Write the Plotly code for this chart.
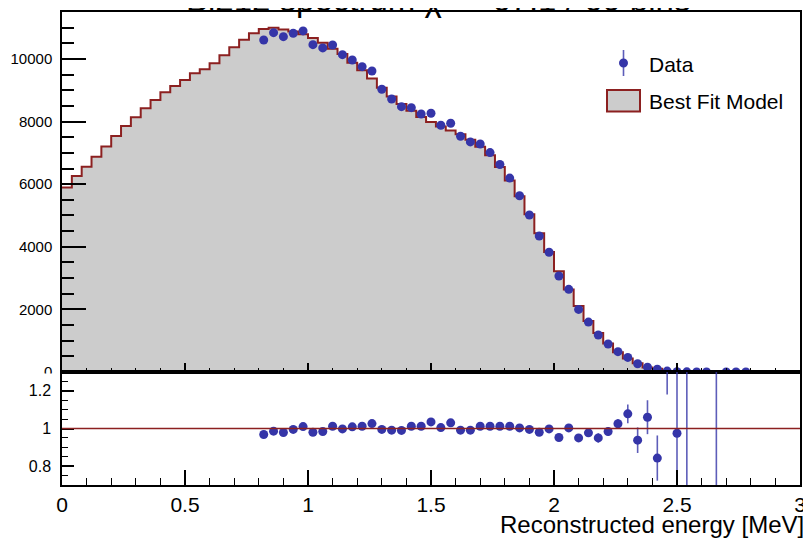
import plotly.graph_objects as go

# ---- data ----
bin_width = 0.04
bin_edges = [round(i * bin_width, 4) for i in range(76)]  # 0 .. 3.0 MeV, 75 bins

model_counts = [
    5890, 6262, 6560, 6880, 7200, 7540, 7860, 8138, 8425, 8690,
    8936, 9138, 9330, 9543, 9675, 9866, 10120, 10375, 10610, 10820,
    10958, 10995, 10943, 10874, 10787, 10670, 10520, 10323, 10158, 9879,
    9638, 9373, 9077, 8801, 8562, 8344, 8145, 7986, 7843, 7714,
    7598, 7416, 7199, 6927, 6551, 6121, 5613, 5041, 4434, 3833,
    3220, 2632, 2105, 1633, 1244, 910, 633, 431, 283, 146,
    104, 20, 8.2, 3.5, 1.5, 0.6, 0.25, 0.1, 0.04, 0.02,
    0, 0, 0, 0, 0,
]

data_energy = [
    0.82, 0.86, 0.90, 0.94, 0.98, 1.02, 1.06, 1.10, 1.14, 1.18,
    1.22, 1.26, 1.30, 1.34, 1.38, 1.42, 1.46, 1.50, 1.54, 1.58,
    1.62, 1.66, 1.70, 1.74, 1.78, 1.82, 1.86, 1.90, 1.94, 1.98,
    2.02, 2.06, 2.10, 2.14, 2.18, 2.22, 2.26, 2.30, 2.34, 2.38,
    2.42, 2.46, 2.50, 2.54, 2.58, 2.62, 2.66, 2.70, 2.74, 2.78,
]
data_counts = [
    10607, 10841, 10713, 10820, 10895, 10457, 10352, 10447, 10138, 9968,
    9754, 9617, 9032, 8722, 8476, 8444, 8243, 8265, 7882, 7945,
    7530, 7349, 7285, 7010, 6630, 6195, 5630, 5016, 4345, 3825,
    3065, 2640, 2000, 1595, 1182, 895, 649, 465, 265, 155,
    88, 30, 8, 4, 2, 2, None, 1, 1, 1,
]
ratio_values = [
    0.968, 0.986, 0.979, 0.995, 1.010, 0.980, 0.984, 1.012, 0.998, 1.009,
    1.012, 1.026, 0.995, 0.991, 0.990, 1.012, 1.012, 1.035, 1.005, 1.030,
    0.991, 0.991, 1.012, 1.012, 1.012, 1.012, 1.003, 0.995, 0.980, 0.998,
    0.952, 1.003, 0.950, 0.977, 0.950, 0.984, 1.025, 1.078, 0.938, 1.060,
    0.843, 1.50, 0.975, 1.40, None, None, 2.0, None, None, None,
]
ratio_errors = [
    0.010, 0.010, 0.010, 0.010, 0.010, 0.010, 0.010, 0.010, 0.010, 0.010,
    0.010, 0.010, 0.010, 0.010, 0.010, 0.010, 0.010, 0.010, 0.010, 0.010,
    0.010, 0.010, 0.010, 0.010, 0.010, 0.010, 0.012, 0.012, 0.014, 0.015,
    0.016, 0.018, 0.020, 0.022, 0.025, 0.022, 0.025, 0.050, 0.068, 0.090,
    0.120, 0.320, 0.400, 0.900, 0, 0, 1.5, 0, 0, 0,
]

title_text = "Bi212 spectrum χ<sup>2</sup> = 67.1 / 60 bins"
x_title = "Reconstructed energy [MeV]"
y_ticks_main = [0, 2000, 4000, 6000, 8000, 10000]
y_ticks_ratio = [0.8, 1.0, 1.2]
y_ticks_ratio_text = ["0.8", "1", "1.2"]

# ---- styling ----
FONT = "Liberation Sans, Arial, Helvetica, sans-serif"
BLUE = "#3535a8"
RED = "#8c2020"
GRAY = "#cccccc"

# the page has an 8px body margin, so the figure is drawn 8px smaller
OFF = 8
W, H = 811 - OFF, 538 - OFF
L, T = 62 - OFF, 12 - OFF
R, B = 11, 53
PLOT_W = W - L - R
PLOT_H = H - T - B
ratio_top_page = 372
ratio_dom = (H - B - (ratio_top_page - OFF)) / PLOT_H


def px_x(page_x):
    return (page_x - OFF - L) / PLOT_W


def px_y(page_y):
    return (H - B - (page_y - OFF)) / PLOT_H


fig = go.Figure()

# model histogram (step)
fig.add_trace(go.Scatter(
    x=bin_edges, y=model_counts + [model_counts[-1]],
    mode="lines", line=dict(shape="hv", color=RED, width=2),
    fill="tozeroy", fillcolor=GRAY, xaxis="x", yaxis="y",
    hoverinfo="skip", showlegend=False,
))
# data points
fig.add_trace(go.Scatter(
    x=data_energy, y=data_counts, mode="markers",
    marker=dict(color=BLUE, size=9), xaxis="x", yaxis="y",
    showlegend=False,
))
# ratio points
fig.add_trace(go.Scatter(
    x=data_energy, y=ratio_values, mode="markers",
    marker=dict(color=BLUE, size=9),
    error_y=dict(type="data", array=ratio_errors, color="rgba(53,53,168,0.8)",
                 thickness=1.6, width=0),
    xaxis="x2", yaxis="y2", showlegend=False,
))

axis_common = dict(showgrid=False, zeroline=False, showline=True, linecolor="black",
                   linewidth=1.5, mirror=True, ticks="inside", tickcolor="black",
                   automargin=False)

fig.update_layout(
    width=W, height=H,
    margin=dict(l=L, r=R, t=T, b=B, autoexpand=False),
    paper_bgcolor="white", plot_bgcolor="white",
    font=dict(family=FONT, color="black"),
    xaxis=dict(domain=[0, 1], range=[0, 3], anchor="y", showticklabels=False,
               dtick=0.5, ticklen=9, tickwidth=1.5,
               minor=dict(dtick=0.1, ticklen=4, ticks="inside", tickcolor="black", tickwidth=1),
               **axis_common),
    yaxis=dict(domain=[ratio_dom, 1], range=[0, 11500], anchor="x",
               tickvals=y_ticks_main, tickformat="d", ticklen=24, tickwidth=1.5,
               tickfont=dict(size=15), ticklabelstandoff=5,
               minor=dict(dtick=500, ticklen=12, ticks="inside", tickcolor="black", tickwidth=1.5),
               **axis_common),
    xaxis2=dict(domain=[0, 1], range=[0, 3], anchor="y2", dtick=0.5,
                ticklen=15, tickwidth=1.5, tickfont=dict(size=21),
                minor=dict(dtick=0.1, ticklen=7, ticks="inside", tickcolor="black", tickwidth=1),
                **axis_common),
    yaxis2=dict(domain=[0, ratio_dom], range=[0.7, 1.3], anchor="x2",
                tickvals=y_ticks_ratio, ticktext=y_ticks_ratio_text,
                ticklen=12, tickwidth=1.5, tickfont=dict(size=16), ticklabelstandoff=6,
                minor=dict(dtick=0.05, ticklen=6, ticks="inside", tickcolor="black", tickwidth=1),
                **axis_common),
    showlegend=False,
)

# reference line at 1 in ratio panel
fig.add_shape(type="line", xref="x2", yref="y2", x0=0, x1=3, y0=1, y1=1,
              line=dict(color=RED, width=1.5))

# hide lower half of the main-panel "0" label like the ROOT pad
fig.add_shape(type="rect", xref="paper", yref="paper",
              x0=px_x(8), x1=px_x(58), y0=px_y(384), y1=px_y(373.5),
              fillcolor="white", line=dict(width=0), layer="above")

# legend (drawn by hand)
fig.add_shape(type="line", xref="paper", yref="paper",
              x0=px_x(623.5), x1=px_x(623.5), y0=px_y(50), y1=px_y(76),
              line=dict(color="rgba(53,53,168,0.8)", width=1.6))
fig.add_shape(type="circle", xref="paper", yref="paper",
              xsizemode="pixel", ysizemode="pixel",
              xanchor=px_x(623.5), yanchor=px_y(63),
              x0=-4.5, x1=4.5, y0=-4.5, y1=4.5,
              fillcolor=BLUE, line=dict(width=0))
fig.add_shape(type="rect", xref="paper", yref="paper",
              x0=px_x(607), x1=px_x(640), y0=px_y(111.5), y1=px_y(90),
              fillcolor=GRAY, line=dict(color=RED, width=2))
fig.add_annotation(text="Data", xref="paper", yref="paper", x=px_x(647), y=px_y(64),
                   xanchor="left", yanchor="middle", showarrow=False,
                   font=dict(size=21, family=FONT))
fig.add_annotation(text="Best Fit Model", xref="paper", yref="paper", x=px_x(647), y=px_y(101),
                   xanchor="left", yanchor="middle", showarrow=False,
                   font=dict(size=21, family=FONT))

# title (partially cut by the top of the canvas, as in the reference)
fig.add_annotation(text=title_text, xref="paper", yref="paper", x=px_x(438), y=px_y(20),
                   xanchor="center", yanchor="bottom", showarrow=False,
                   font=dict(size=33, family=FONT))

# x axis title
fig.add_annotation(text=x_title, xref="paper", yref="paper", x=px_x(806), y=px_y(524),
                   xanchor="right", yanchor="middle", showarrow=False,
                   font=dict(size=24, family=FONT))

fig.write_html("out.html")
